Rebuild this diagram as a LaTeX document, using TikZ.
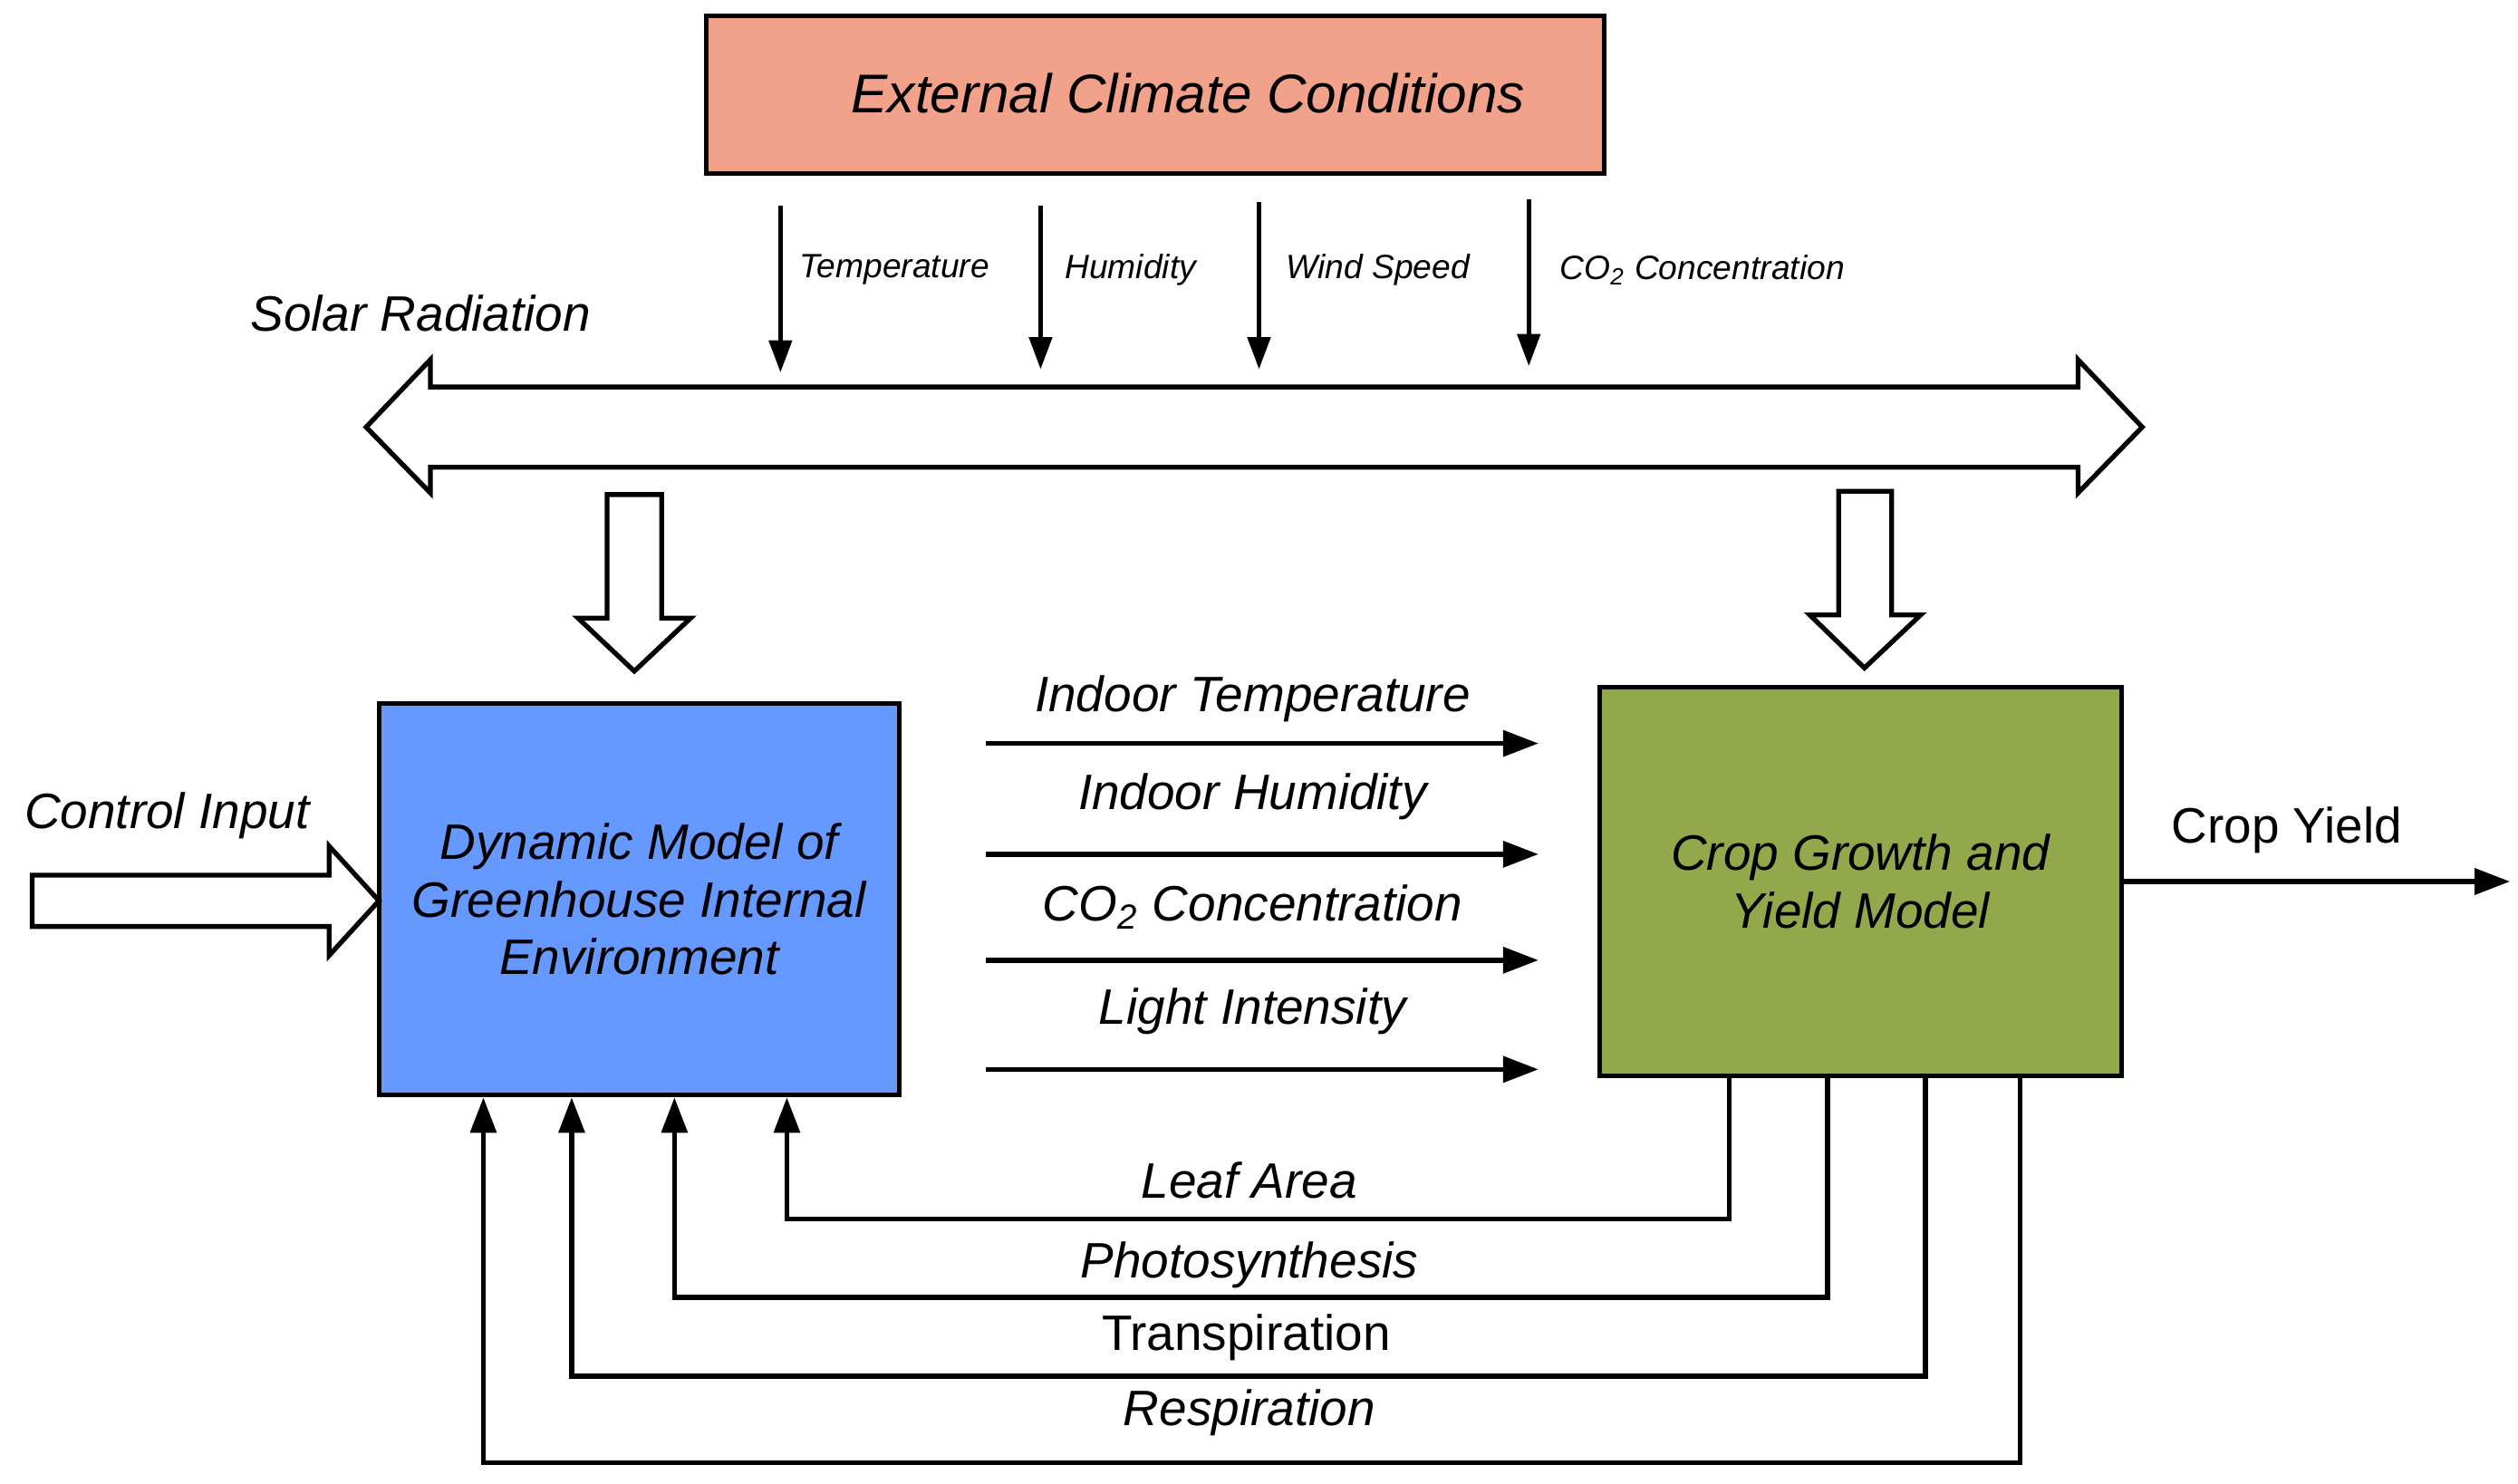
\documentclass[tikz,border=0pt]{standalone}
\usepackage{fontspec}
\setmainfont{Liberation Sans}
\usetikzlibrary{arrows.meta}
\begin{document}
\begin{tikzpicture}[x=0.5pt,y=-0.5pt,line width=1.5pt,
  box/.style={draw,line width=1.5pt,inner sep=0pt},
  arr/.style={-{Triangle[length=11pt,width=8pt]}},
  sarr/.style={-{Triangle[length=10pt,width=7pt]}},
  big/.style={font=\fontsize{15.5}{18}\selectfont\itshape},
  bign/.style={font=\fontsize{15.5}{18}\selectfont},
  small/.style={font=\fontsize{10.5}{12}\selectfont\itshape},
  blk/.style={draw,line width=1.5pt,fill=white,line join=miter}]
\useasboundingbox (0,0) rectangle (1568,924);
\definecolor{salmon}{HTML}{F2A28A}
\definecolor{blu}{HTML}{6699FF}
\definecolor{olive}{HTML}{92A84B}
% boxes
\node[box,fill=salmon,minimum width=279.5pt,minimum height=49pt] (ext) at (719.5,59) {};
\node[big,font=\fontsize{17}{20}\selectfont\itshape] (extt) at (740,58) {External Climate Conditions};
\node[box,fill=blu,minimum width=162pt,minimum height=122pt,align=center,big] (dyn) at (398,560) {Dynamic Model of\\Greenhouse Internal\\Environment};
\node[box,fill=olive,minimum width=162.5pt,minimum height=121pt,align=center,big] (crop) at (1158.5,549) {Crop Growth and\\Yield Model};
% small external arrows
\foreach \x/\a/\b/\t/\lx in {486/128/232/Temperature/557, 648/128/230/Humidity/704, 784/126/230/Wind Speed/858, 952/124/228/CO\textsubscript{2} Concentration/1060}{
  \coordinate (s\x) at (\x,\a); \coordinate (e\x) at (\x,\b);
  \draw[sarr] (s\x) -- (e\x);
  \node[small] at (\lx,168) {\t};
}
\node[big] (sol) at (262,195) {Solar Radiation};
% double block arrow
\draw[blk] (268,241) -- (1294,241) -- (1294,224) -- (1334,266) -- (1294,307) -- (1294,291) -- (268,291) -- (268,307) -- (228,266) -- (268,224) -- cycle;
% down block arrows
\draw[blk] (378,308) -- (412,308) -- (412,385) -- (430,385) -- (395,418) -- (360,385) -- (378,385) -- cycle;
\draw[blk] (1145,306) -- (1178,306) -- (1178,383) -- (1196,383) -- (1161,416) -- (1127,383) -- (1145,383) -- cycle;
% control input
\draw[blk] (20,545) -- (205,545) -- (205,527) -- (236,561) -- (205,595) -- (205,577) -- (20,577) -- cycle;
\node[big] at (104,508) {Control Input};
% internal arrows
\foreach \y/\ly/\t in {463/435/Indoor Temperature, 532/496/Indoor Humidity, 598/565/CO\textsubscript{2} Concentration, 666/630/Light Intensity}{
  \coordinate (a\y) at (614,\y); \coordinate (b\y) at (958,\y);
  \draw[arr] (a\y) -- (b\y);
  \node[big] at (780,\ly) {\t};
}
% crop yield
\coordinate (cy) at (1563,549);
\draw[arr] (crop.east) -- (cy);
\node[bign] at (1424,517) {Crop Yield};
% feedback
\draw[arr] (crop.south -| 1077,0) -- (1077,759) -- (490,759) -- (dyn.south -| 490,0);
\node[big] at (778,735) {Leaf Area};
\draw[arr] (crop.south -| 1138,0) -- (1138,808) -- (420,808) -- (dyn.south -| 420,0);
\node[big] at (778,788) {Photosynthesis};
\draw[arr] (crop.south -| 1199,0) -- (1199,857) -- (356,857) -- (dyn.south -| 356,0);
\node[bign] at (776,833) {Transpiration};
\draw[arr] (crop.south -| 1258,0) -- (1258,911) -- (301,911) -- (dyn.south -| 301,0);
\node[big] at (778,880) {Respiration};
\end{tikzpicture}
\end{document}
